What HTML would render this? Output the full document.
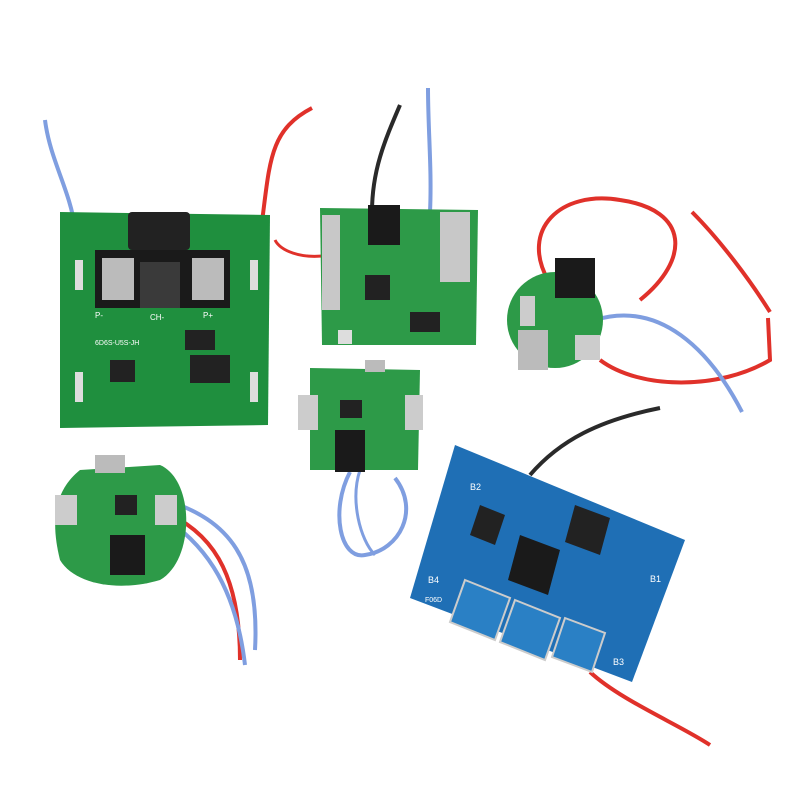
<!DOCTYPE html>
<html><head><meta charset="utf-8"><style>
html,body{margin:0;padding:0;background:#fff;}
svg{display:block;}
text{font-family:"Liberation Sans",sans-serif;}
</style></head><body>
<svg width="800" height="800" viewBox="0 0 800 800" xmlns="http://www.w3.org/2000/svg">
<rect width="800" height="800" fill="#fff"/>
<!-- wires behind -->
<path d="M45,120 C50,160 70,190 75,228" stroke="#7f9ee0" stroke-width="4" fill="none"/>
<path d="M262,222 C270,160 270,130 312,108" stroke="#e0312a" stroke-width="4" fill="none"/>
<path d="M372,212 C372,170 385,140 400,105" stroke="#2a2a2a" stroke-width="4" fill="none"/>
<path d="M430,212 C432,170 428,130 428,88" stroke="#7f9ee0" stroke-width="4" fill="none"/>
<path d="M330,255 C300,260 280,250 275,240" stroke="#e0312a" stroke-width="3" fill="none"/>
<path d="M548,280 C520,230 560,190 620,200 C690,210 690,260 640,300" stroke="#e0312a" stroke-width="4" fill="none"/>
<path d="M600,360 C640,390 720,390 770,360 L768,318" stroke="#e0312a" stroke-width="4" fill="none"/>
<path d="M692,212 C720,240 750,280 770,312" stroke="#e0312a" stroke-width="4" fill="none"/>
<path d="M595,320 C660,300 710,350 742,412" stroke="#7f9ee0" stroke-width="4" fill="none"/>
<path d="M350,472 C330,510 340,560 365,555 C400,550 420,510 395,478" stroke="#7f9ee0" stroke-width="4" fill="none"/>
<path d="M360,470 C350,500 360,540 375,555" stroke="#7f9ee0" stroke-width="3" fill="none"/>
<path d="M165,500 C230,520 260,560 255,650" stroke="#7f9ee0" stroke-width="4" fill="none"/>
<path d="M160,510 C210,530 240,570 240,660" stroke="#e0312a" stroke-width="4" fill="none"/>
<path d="M160,515 C200,540 235,580 245,665" stroke="#7f9ee0" stroke-width="4" fill="none"/>
<path d="M530,475 C560,440 600,420 660,408" stroke="#2a2a2a" stroke-width="4" fill="none"/>
<path d="M590,672 C620,700 680,725 710,745" stroke="#e0312a" stroke-width="4" fill="none"/>

<!-- big green board -->
<polygon points="60,212 270,215 268,425 60,428" fill="#1f8f3e"/>
<rect x="128" y="212" width="62" height="38" rx="4" fill="#222"/>
<rect x="95" y="250" width="135" height="58" fill="#1a1a1a"/>
<rect x="140" y="262" width="40" height="46" fill="#3a3a3a"/>
<rect x="102" y="258" width="32" height="42" fill="#bbb"/>
<rect x="192" y="258" width="32" height="42" fill="#bbb"/>
<rect x="75" y="260" width="8" height="30" fill="#ddd"/>
<rect x="250" y="260" width="8" height="30" fill="#ddd"/>
<rect x="75" y="372" width="8" height="30" fill="#ddd"/>
<rect x="250" y="372" width="8" height="30" fill="#ddd"/>
<rect x="190" y="355" width="40" height="28" fill="#222"/>
<rect x="110" y="360" width="25" height="22" fill="#222"/>
<rect x="185" y="330" width="30" height="20" fill="#222"/>
<text x="95" y="318" font-size="8" fill="#fff">P-</text><text x="150" y="320" font-size="8" fill="#fff">CH-</text><text x="203" y="318" font-size="8" fill="#fff">P+</text>
<text x="95" y="345" font-size="7" fill="#fff">6D6S-U5S-JH</text>
<!-- middle top board -->
<polygon points="320,208 478,210 476,345 322,345" fill="#2d9a48"/>
<rect x="322" y="215" width="18" height="95" fill="#c8c8c8"/>
<rect x="440" y="212" width="30" height="70" fill="#c8c8c8"/>
<rect x="368" y="205" width="32" height="40" fill="#1a1a1a"/>
<rect x="365" y="275" width="25" height="25" fill="#222"/>
<rect x="410" y="312" width="30" height="20" fill="#222"/>
<rect x="338" y="330" width="14" height="14" fill="#ddd"/>
<!-- right round board -->
<circle cx="555" cy="320" r="48" fill="#2d9a48"/>
<rect x="555" y="258" width="40" height="40" fill="#1a1a1a"/>
<rect x="520" y="296" width="15" height="30" fill="#ccc"/>
<rect x="575" y="335" width="25" height="25" fill="#ccc"/>
<rect x="518" y="330" width="30" height="40" fill="#bbb"/>
<!-- middle small board -->
<polygon points="310,368 420,370 418,470 310,470" fill="#2d9a48"/>
<rect x="298" y="395" width="20" height="35" fill="#ccc"/>
<rect x="405" y="395" width="18" height="35" fill="#ccc"/>
<rect x="335" y="430" width="30" height="42" fill="#1a1a1a"/>
<rect x="340" y="400" width="22" height="18" fill="#222"/>
<rect x="365" y="360" width="20" height="12" fill="#bbb"/>
<!-- bottom-left round board -->
<path d="M80,470 L160,465 C195,480 195,560 160,580 C120,592 75,585 60,560 C50,520 55,490 80,470 Z" fill="#2d9a48"/>
<rect x="95" y="455" width="30" height="18" fill="#bbb"/>
<rect x="55" y="495" width="22" height="30" fill="#ccc"/>
<rect x="155" y="495" width="22" height="30" fill="#ccc"/>
<rect x="110" y="535" width="35" height="40" fill="#1a1a1a"/>
<rect x="115" y="495" width="22" height="20" fill="#222"/>
<!-- blue board -->
<polygon points="455,445 685,540 632,682 410,598" fill="#1f6fb5"/>
<polygon points="520,535 560,550 548,595 508,580" fill="#1a1a1a"/>
<polygon points="575,505 610,518 600,555 565,542" fill="#222"/>
<polygon points="480,505 505,515 495,545 470,535" fill="#222"/>
<polygon points="465,580 510,598 495,640 450,622" fill="#2a80c5" stroke="#ccc" stroke-width="2"/>
<polygon points="515,600 560,618 545,660 500,642" fill="#2a80c5" stroke="#ccc" stroke-width="2"/>
<polygon points="565,618 605,633 592,672 552,657" fill="#2a80c5" stroke="#ccc" stroke-width="2"/>
<text x="470" y="490" font-size="9" fill="#fff">B2</text>
<text x="650" y="582" font-size="9" fill="#fff">B1</text>
<text x="428" y="583" font-size="9" fill="#fff">B4</text>
<text x="613" y="665" font-size="9" fill="#fff">B3</text>
<text x="425" y="602" font-size="7" fill="#fff">F06D</text>
</svg>
</body></html>
